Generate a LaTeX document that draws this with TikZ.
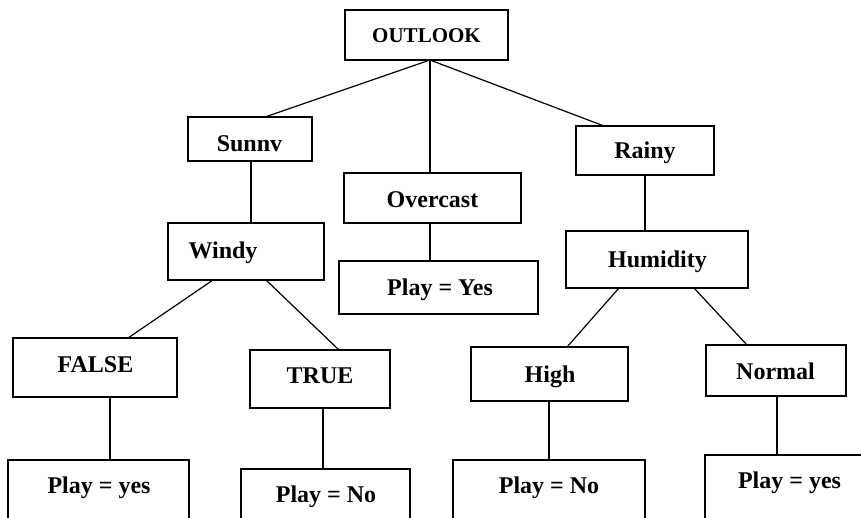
\documentclass[tikz,border=0pt]{standalone}
\usepackage{fontspec}
\setmainfont{Liberation Serif}
\begin{document}
\begin{tikzpicture}[x=1pt,y=-1pt,
  box/.style={draw=black,line width=1.3pt,rectangle,inner sep=0pt,outer sep=0pt},
  lbl/.style={anchor=base,inner sep=0pt,font=\fontsize{24}{28}\selectfont\bfseries},
  lblsmall/.style={anchor=base,inner sep=0pt,font=\fontsize{21}{25}\selectfont\bfseries},
  edge/.style={draw=black,line width=1.2pt}]
\useasboundingbox (0,0) rectangle (861,517);
\clip (0,0) rectangle (861,517);
\fill[white] (0,0) rectangle (861,517);
% boxes
\node[box,minimum width=163pt,minimum height=50pt] (outlook) at (426.5,35) {};
\node[box,minimum width=124pt,minimum height=44pt] (sunny) at (250,139) {};
\node[box,minimum width=177pt,minimum height=50pt] (overcast) at (432.5,198) {};
\node[box,minimum width=138pt,minimum height=49pt] (rainy) at (645,150.5) {};
\node[box,minimum width=156pt,minimum height=57pt] (windy) at (246,251.5) {};
\node[box,minimum width=199pt,minimum height=53pt] (yesO) at (438.5,287.5) {};
\node[box,minimum width=182pt,minimum height=57pt] (humidity) at (657,259.5) {};
\node[box,minimum width=164pt,minimum height=59pt] (false) at (95,367.5) {};
\node[box,minimum width=140pt,minimum height=58pt] (true) at (320,379) {};
\node[box,minimum width=157pt,minimum height=54pt] (high) at (549.5,374) {};
\node[box,minimum width=140pt,minimum height=51pt] (normal) at (776,370.5) {};
\node[box,minimum width=181pt,minimum height=100pt] (leafA) at (98.5,510) {};
\node[box,minimum width=169pt,minimum height=100pt] (leafB) at (325.5,519) {};
\node[box,minimum width=192pt,minimum height=100pt] (leafC) at (549,510) {};
\node[box,minimum width=200pt,minimum height=100pt] (leafD) at (805,505) {};
% labels
\node[lblsmall] (tOutlook) at (426.5,42) {OUTLOOK};
\node[lbl] (tSunny) at (249.5,151) {Sunnv};
\node[lbl] (tOvercast) at (432.5,207) {Overcast};
\node[lbl] (tRainy) at (645,158) {Rainy};
\node[lbl] (tWindy) at (223,258) {Windy};
\node[lbl] (tYesO) at (440,295.5) {Play = Yes};
\node[lbl] (tHumidity) at (657.5,267) {Humidity};
\node[lbl] (tFalse) at (95.5,372) {FALSE};
\node[lbl] (tTrue) at (320,383) {TRUE};
\node[lbl] (tHigh) at (550,382) {High};
\node[lbl] (tNormal) at (775.5,379) {Normal};
\node[lbl] (tLeafA) at (99,493) {Play = yes};
\node[lbl] (tLeafB) at (326,502) {Play = No};
\node[lbl] (tLeafC) at (549,493) {Play = No};
\node[lbl] (tLeafD) at (789.5,488) {Play = yes};
% connectors
\draw[edge] ([xshift=3.5pt]outlook.south) -- ([xshift=15pt]sunny.north);
\draw[edge] ([xshift=3.5pt]outlook.south) -- ([xshift=-2.5pt]overcast.north);
\draw[edge] ([xshift=3.5pt]outlook.south) -- ([xshift=-41pt]rainy.north);
\draw[edge] ([xshift=1pt]sunny.south) -- ([xshift=5pt]windy.north);
\draw[edge] ([xshift=-2.5pt]overcast.south) -- ([xshift=-8.5pt]yesO.north);
\draw[edge] (rainy.south) -- ([xshift=-12pt]humidity.north);
\draw[edge] ([xshift=-33pt]windy.south) -- ([xshift=33pt]false.north);
\draw[edge] ([xshift=20pt]windy.south) -- ([xshift=19pt]true.north);
\draw[edge] ([xshift=15pt]false.south) -- ([xshift=11.5pt]leafA.north);
\draw[edge] ([xshift=3pt]true.south) -- ([xshift=-2.5pt]leafB.north);
\draw[edge] ([xshift=-38pt]humidity.south) -- ([xshift=17.5pt]high.north);
\draw[edge] ([xshift=37pt]humidity.south) -- ([xshift=-29pt]normal.north);
\draw[edge] ([xshift=-0.5pt]high.south) -- (leafC.north);
\draw[edge] ([xshift=1pt]normal.south) -- ([xshift=-28pt]leafD.north);
\end{tikzpicture}
\end{document}
